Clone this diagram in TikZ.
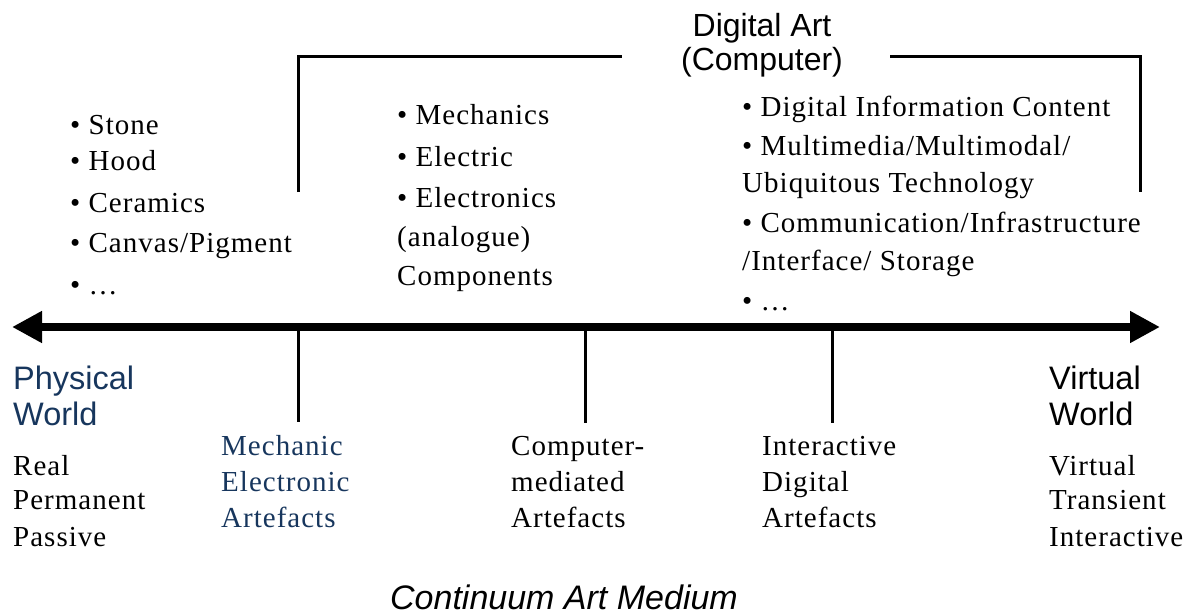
\documentclass[tikz,border=0pt]{standalone}
\usepackage{fontspec}
\setmainfont{Liberation Serif}[LetterSpace=3.5]
\newfontfamily\hsans{Liberation Sans}
\usetikzlibrary{arrows.meta}
\definecolor{dblue}{HTML}{17365D}
\begin{document}
\begin{tikzpicture}[x=1pt,y=-1pt,
  txt/.style={anchor=base west, inner sep=0pt, font=\fontsize{29}{36}\selectfont},
  head/.style={anchor=base west, inner sep=0pt, font=\hsans\fontsize{32.5}{36}\selectfont},
  ctitle/.style={anchor=base, inner sep=0pt, font=\hsans\fontsize{32}{36}\selectfont},
  thinline/.style={line width=3pt},
  axisline/.style={line width=8pt, {Triangle[length=30pt,width=30pt]}-{Triangle[length=30pt,width=30pt]}}]
\useasboundingbox (0,0) rectangle (1194,615);
% axis
\coordinate (L) at (12,327);
\coordinate (R) at (1160,327);
\draw[axisline] (L) -- (R);
% ticks
\coordinate (t1) at (298,327); \coordinate (t1b) at (298,422);
\coordinate (t2) at (585,327); \coordinate (t2b) at (585,423);
\coordinate (t3) at (832,327); \coordinate (t3b) at (832,423);
\draw[thinline] (t1) -- (t1b);
\draw[thinline] (t2) -- (t2b);
\draw[thinline] (t3) -- (t3b);
% bracket
\coordinate (bl) at (298,192);
\coordinate (br) at (1140,192);
\coordinate (gl) at (622,57);
\coordinate (gr) at (890,57);
\draw[thinline] (bl) |- (gl);
\draw[thinline] (gr) -| (br);
\node[ctitle] (da1) at (762,37) {Digital Art};
\node[ctitle] (da2) at (762,71) {(Computer)};
% left list
\node[txt] (l1) at (70,135) {• Stone};
\node[txt] (l2) at (70,171) {• Hood};
\node[txt] (l3) at (70,212) {• Ceramics};
\node[txt] (l4) at (70,252) {• Canvas/Pigment};
\node[txt] (l5) at (70,294) {• …};
% middle list
\node[txt] (m1) at (397,125) {• Mechanics};
\node[txt] (m2) at (397,166) {• Electric};
\node[txt] (m3) at (397,207) {• Electronics};
\node[txt] (m4) at (397,246) {(analogue)};
\node[txt] (m5) at (397,285) {Components};
% right list
\node[txt] (r1) at (742,117) {• Digital Information Content};
\node[txt] (r2) at (742,156) {• Multimedia/Multimodal/};
\node[txt] (r3) at (742,193) {Ubiquitous Technology};
\node[txt] (r4) at (742,232) {• Communication/Infrastructure};
\node[txt] (r5) at (742,270) {/Interface/ Storage};
\node[txt] (r6) at (742,310) {• …};
% ends
\node[head, text=dblue] (pw1) at (13,389) {Physical};
\node[head, text=dblue] (pw2) at (13,425) {World};
\node[txt] (p1) at (13,475) {Real};
\node[txt] (p2) at (13,509) {Permanent};
\node[txt] (p3) at (13,546) {Passive};
\node[head] (vw1) at (1049,389) {Virtual};
\node[head] (vw2) at (1049,425) {World};
\node[txt] (v1) at (1049,475) {Virtual};
\node[txt] (v2) at (1049,509) {Transient};
\node[txt] (v3) at (1049,546) {Interactive};
% bottom labels
\node[txt, text=dblue] (a1) at (221,455) {Mechanic};
\node[txt, text=dblue] (a2) at (221,491) {Electronic};
\node[txt, text=dblue] (a3) at (221,527) {Artefacts};
\node[txt] (b1) at (511,455) {Computer-};
\node[txt] (b2) at (511,491) {mediated};
\node[txt] (b3) at (511,527) {Artefacts};
\node[txt] (c1) at (762,455) {Interactive};
\node[txt] (c2) at (762,491) {Digital};
\node[txt] (c3) at (762,527) {Artefacts};
% caption
\node[ctitle, font=\hsans\itshape\fontsize{34}{36}\selectfont] (cap) at (564,609) {Continuum Art Medium};
\end{tikzpicture}
\end{document}
